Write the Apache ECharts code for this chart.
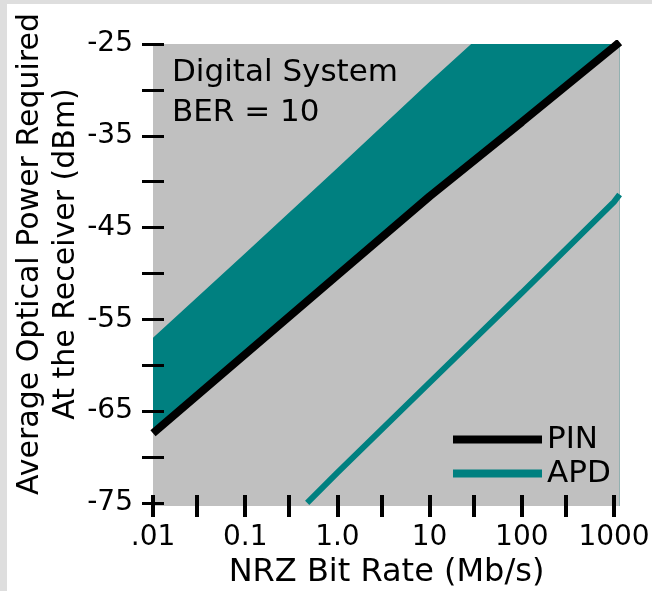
<!DOCTYPE html>
<html><head><meta charset="utf-8">
<script src="https://cdn.jsdelivr.net/npm/echarts@6/dist/echarts.min.js"></script>
<style>html,body{margin:0;padding:0;background:#fff}#c{width:652px;height:591px}</style>
</head><body><div id="c"></div><script>
// bit rates (Mb/s) and required power (dBm)
const bitRates = [0.01, 0.1, 1, 10, 100, 1000, 1150];
const pinPower = [-67.4, -58.8, -50.2, -41.6, -33.5, -25.3, -24.8];
const bandUpper = [-57.0, -47.8, -38.5, -29.1, -20.0, -10.8, -10.3];
const apdRates = [0.47, 1, 10, 100, 1000, 1150];
const apdPower = [-75.0, -71.7, -61.9, -52.1, -42.2, -41.4];
const xTickRates = [0.01, 0.03, 0.1, 0.3, 1, 3, 10, 30, 100, 300, 1000];
const xLabelRates = [0.01, 0.1, 1, 10, 100, 1000];
const xLabels = ['.01', '0.1', '1.0', '10', '100', '1000'];
const yTicks = [-75, -70, -65, -60, -55, -50, -45, -40, -35, -30, -25];
const yLabelVals = [-75, -65, -55, -45, -35, -25];

const FONT = '"DejaVu Sans", "Liberation Sans", sans-serif';
const TEAL = '#008080';
const PLOT_BG = '#c0c0c0';
const lg = v => Math.log10(v);
const pairs = (xs, ys) => xs.map((x, i) => [lg(x), ys[i]]);

const xMin = -2, xMax = 3.065, yMin = -75.33, yMax = -25;
function xAxisCfg(inside, withLabels) {
  return {
    type: 'value', min: xMin, max: xMax, position: 'bottom', z: 10,
    axisLine: {show: false, onZero: false}, splitLine: {show: false},
    axisTick: {show: true, inside: inside, length: 11, customValues: xTickRates.map(lg),
      lineStyle: {color: '#000', width: 4}},
    axisLabel: withLabels ? {show: true, customValues: xLabelRates.map(lg), margin: 18,
      fontFamily: FONT, fontSize: 28, color: '#000',
      formatter: v => xLabels[xLabelRates.findIndex(r => Math.abs(lg(r) - v) < 1e-6)]} : {show: false},
    name: withLabels ? 'NRZ Bit Rate (Mb/s)' : '', nameLocation: 'middle', nameGap: 49,
    nameTextStyle: {fontFamily: FONT, fontSize: 32, color: '#000'}
  };
}
function yAxisCfg(inside, withLabels) {
  return {
    type: 'value', min: yMin, max: yMax, position: 'left', z: 10,
    axisLine: {show: false, onZero: false}, splitLine: {show: false},
    axisTick: {show: true, inside: inside, length: 11, customValues: yTicks,
      lineStyle: {color: '#000', width: 3}},
    axisLabel: withLabels ? {show: true, customValues: yLabelVals, margin: 20,
      fontFamily: FONT, fontSize: 28, color: '#000', formatter: v => String(v)} : {show: false}
  };
}

const chart = echarts.init(document.getElementById('c'), null, {renderer: 'canvas'});
chart.setOption({
  animation: false,
  backgroundColor: '#fff',
  grid: {left: 153, top: 44, width: 467, height: 462, show: true, backgroundColor: PLOT_BG, borderWidth: 0,
    containLabel: false, outerBoundsMode: 'none'},
  title: {text: 'Digital System\nBER = 10', left: 167, top: 48,
    textStyle: {fontFamily: FONT, fontSize: 31, fontWeight: 'normal', lineHeight: 40, color: '#000'}},
  legend: {data: ['PIN', 'APD'], orient: 'vertical', left: 448, top: 419, itemWidth: 89, itemHeight: 8,
    itemGap: 3, icon: 'rect', textStyle: {fontFamily: FONT, fontSize: 31, color: '#000', lineHeight: 31}},
  xAxis: [xAxisCfg(false, true), xAxisCfg(true, false)],
  yAxis: [yAxisCfg(false, true), yAxisCfg(true, false)],
  graphic: [
    {type: 'rect', shape: {x: 0, y: 0, width: 652, height: 4}, style: {fill: '#dedede'}, silent: true},
    {type: 'rect', shape: {x: 0, y: 0, width: 7, height: 591}, style: {fill: '#dedede'}, silent: true},
    {type: 'text', x: 48, y: 254, rotation: Math.PI / 2, silent: true,
      style: {text: 'Average Optical Power Required\nAt the Receiver (dBm)', fill: '#000',
        font: '30px ' + FONT, fontSize: 30, fontFamily: FONT, lineHeight: 36.5,
        align: 'center', verticalAlign: 'middle', textAlign: 'center', textVerticalAlign: 'middle'}}
  ],
  series: [
    // teal band: fill below upper edge, then cover below the PIN curve with plot gray
    {name: 'bandUpper', type: 'line', data: pairs(bitRates, bandUpper), showSymbol: false,
      lineStyle: {width: 0, opacity: 0}, areaStyle: {color: TEAL, opacity: 1, origin: 'start'}, silent: true, z: 1},
    {name: 'bandLower', type: 'line', data: pairs(bitRates, pinPower), showSymbol: false,
      lineStyle: {width: 0, opacity: 0}, areaStyle: {color: PLOT_BG, opacity: 1, origin: 'start'}, silent: true, z: 2},
    {name: 'PIN', type: 'line', data: pairs(bitRates, pinPower), showSymbol: false, color: '#000',
      itemStyle: {color: '#000'}, lineStyle: {color: '#000', width: 8}, z: 3},
    {name: 'APD', type: 'line', data: pairs(apdRates, apdPower), showSymbol: false, color: TEAL,
      itemStyle: {color: TEAL}, lineStyle: {color: TEAL, width: 6}, z: 3}
  ]
});
</script></body></html>
